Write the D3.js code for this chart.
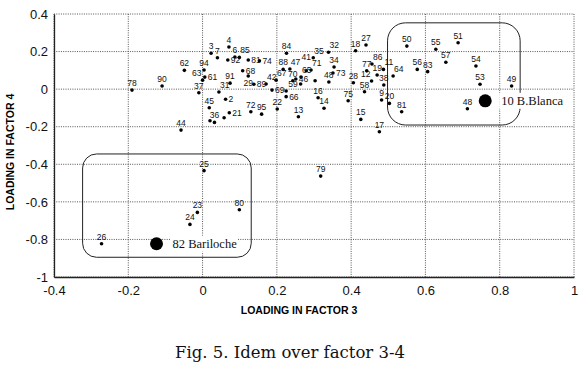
<!DOCTYPE html>
<html>
<head>
<meta charset="utf-8">
<script src="https://cdn.jsdelivr.net/npm/d3@7"></script>
<style>
  body { margin: 0; background: #fff; }
  svg { display: block; }
</style>
</head>
<body>
<svg id="chart" width="580" height="379"></svg>
<script>
// station numbers, loadings on factor 3 (x) and factor 4 (y)
const labels = ["78","90","62","44","94","61","63","37","31","2","91","45","21","36","","",
  "3","7","4","6","92","85","81","74","68","29","89","42","69","22","72","95","67",
  "84","88","47","70","46","65","59","66","","41","35","71","32","34","73","48","",
  "16","14","13","75","28","18","27","77","86","19","12","58","15","17","11","64",
  "38","9","20","81","50","55","51","57","56","83","54","53","49","48",
  "25","23","24","80","26","79"];
const factor3 = [-0.190,-0.109,-0.049,-0.058,0.004,0.006,0.000,-0.010,0.044,0.062,0.074,0.018,0.072,0.032,0.020,0.058,
  0.023,0.040,0.071,0.087,0.068,0.099,0.123,0.153,0.108,0.123,0.138,0.171,0.187,0.201,0.130,0.159,0.198,
  0.226,0.217,0.235,0.243,0.251,0.265,0.264,0.225,0.225,0.279,0.298,0.292,0.339,0.354,0.351,0.340,0.303,
  0.311,0.327,0.258,0.392,0.406,0.412,0.440,0.442,0.456,0.470,0.455,0.436,0.426,0.476,0.487,0.513,
  0.488,0.482,0.503,0.536,0.550,0.628,0.688,0.655,0.578,0.606,0.736,0.747,0.832,0.713,
  0.004,-0.014,-0.034,0.099,-0.272,0.318];
const factor4 = [-0.005,0.017,0.100,-0.218,0.102,0.064,0.048,-0.019,-0.015,-0.054,0.032,-0.099,-0.126,-0.177,-0.168,-0.152,
  0.191,0.167,0.224,0.171,0.155,0.169,0.155,0.151,0.098,0.070,0.026,0.027,-0.005,-0.106,-0.120,-0.133,0.048,
  0.191,0.105,0.107,0.045,0.054,0.064,0.027,-0.040,-0.010,0.098,0.167,0.102,0.196,0.118,0.086,0.038,0.045,
  -0.046,-0.102,-0.147,-0.062,0.034,0.204,0.235,0.098,0.134,0.075,0.043,-0.014,-0.161,-0.227,0.105,0.070,
  0.022,-0.058,-0.076,-0.120,0.229,0.212,0.247,0.143,0.105,0.093,0.123,0.026,0.017,-0.104,
  -0.434,-0.656,-0.720,-0.642,-0.823,-0.463];

// the two highlighted stations
const bigNames = ["10 B.Blanca", "82 Bariloche"];
const bigF3 = [0.761, -0.124];
const bigF4 = [-0.062, -0.823];

// grouping boxes [x0, x1, y0, y1] in loading units
const boxes = [[-0.323, 0.131, -0.345, -0.895], [0.498, 0.855, 0.353, -0.191]];

const xTicks = [-0.4, -0.2, 0, 0.2, 0.4, 0.6, 0.8, 1];
const yTicks = [0.4, 0.2, 0, -0.2, -0.4, -0.6, -0.8, -1];

const svg = d3.select("#chart");
const m = { left: 54, top: 14, right: 574, bottom: 277 };

const x = d3.scaleLinear().domain([-0.4, 1]).range([m.left, m.right]);
const y = d3.scaleLinear().domain([-1, 0.4]).range([m.bottom, m.top]);

// dotted grid
svg.append("g").selectAll("line").data(xTicks).enter().append("line")
  .attr("x1", d => x(d)).attr("x2", d => x(d))
  .attr("y1", m.top).attr("y2", m.bottom)
  .attr("stroke", "#555").attr("stroke-dasharray", "1,1.3");
svg.append("g").selectAll("line").data(yTicks).enter().append("line")
  .attr("x1", m.left).attr("x2", m.right)
  .attr("y1", d => y(d)).attr("y2", d => y(d))
  .attr("stroke", "#555").attr("stroke-dasharray", "1,1.3");

const fmt = d => String(d);

const xAxis = svg.append("g")
  .attr("transform", `translate(0,${m.bottom})`)
  .call(d3.axisBottom(x).tickValues(xTicks).tickFormat(fmt).tickSize(0).tickPadding(9));
const yAxis = svg.append("g")
  .attr("transform", `translate(${m.left},0)`)
  .call(d3.axisLeft(y).tickValues(yTicks).tickFormat(fmt).tickSize(0).tickPadding(6));

[xAxis, yAxis].forEach(a => {
  a.select(".domain").attr("stroke", "#222").attr("stroke-width", 1.3);
  a.selectAll("text").attr("font-family", "Liberation Sans, Arial, sans-serif")
    .attr("font-size", 13).attr("fill", "#111");
});

// axis titles
svg.append("text")
  .attr("x", 299).attr("y", 314)
  .attr("text-anchor", "middle")
  .attr("font-family", "Liberation Sans, Arial, sans-serif")
  .attr("font-weight", "bold").attr("font-size", 10.5)
  .text("LOADING IN FACTOR 3");
svg.append("text")
  .attr("transform", "translate(14,152) rotate(-90)")
  .attr("text-anchor", "middle")
  .attr("font-family", "Liberation Sans, Arial, sans-serif")
  .attr("font-weight", "bold").attr("font-size", 10.5)
  .text("LOADING IN FACTOR 4");

// boxes
svg.append("g").selectAll("rect").data(boxes).enter().append("rect")
  .attr("x", d => x(d[0])).attr("y", d => y(d[2]))
  .attr("width", d => x(d[1]) - x(d[0]))
  .attr("height", d => y(d[3]) - y(d[2]))
  .attr("rx", (d, i) => i === 0 ? 14 : 18)
  .attr("fill", "none").attr("stroke", "#222").attr("stroke-width", 1);

// small points
const pts = labels.map((l, i) => ({ l, a: factor3[i], b: factor4[i] }));
const g = svg.append("g");
g.selectAll("circle").data(pts).enter().append("circle")
  .attr("cx", d => x(d.a)).attr("cy", d => y(d.b))
  .attr("r", 1.8).attr("fill", "#000");

const txt = g.selectAll("text").data(pts.filter(d => d.l)).enter().append("text")
  .attr("font-family", "Liberation Sans, Arial, sans-serif")
  .attr("font-size", 8.5).attr("fill", "#111")
  .attr("text-anchor", "middle")
  .text(d => d.l);

// greedy placement: try above first, then around the dot, keep the first free spot
const placed = [];
const hit = (a, b) => a.x0 < b.x1 && b.x0 < a.x1 && a.y0 < b.y1 && b.y0 < a.y1;
txt.each(function(d) {
  const w = this.getComputedTextLength(), h = 7;
  const cx = x(d.a), cy = y(d.b);
  const cands = [[0, -4], [-w / 2 - 1, -4], [w / 2 + 1, -4], [w / 2 + 3, 3], [-w / 2 - 3, 3],
    [0, 10], [0, -11], [-w - 1, -4], [w + 1, -4], [-w / 2 - 1, 10], [w / 2 + 1, 10],
    [-w / 2 - 1, -11], [w / 2 + 1, -11], [w + 3, 3], [-w - 3, 3], [0, 17], [0, -18],
    [-w - 2, 10], [w + 2, 10], [-w - 2, -11], [w + 2, -11]];
  let best = cands[0];
  for (const c of cands) {
    const bx = { x0: cx + c[0] - w / 2, x1: cx + c[0] + w / 2, y0: cy + c[1] - h, y1: cy + c[1] };
    if (!placed.some(p => hit(p, bx))) { best = c; break; }
  }
  placed.push({ x0: cx + best[0] - w / 2 - 0.5, x1: cx + best[0] + w / 2 + 0.5, y0: cy + best[1] - h - 0.5, y1: cy + best[1] + 1 });
  d3.select(this).attr("x", cx + best[0]).attr("y", cy + best[1]);
});

// highlighted stations
const big = bigNames.map((n, i) => ({ n, a: bigF3[i], b: bigF4[i] }));
const bg = svg.append("g");
bg.selectAll("rect").data(big).enter().append("rect")
  .attr("x", d => x(d.a) + 14).attr("y", d => y(d.b) - 8)
  .attr("width", d => d.n.length * 5.6).attr("height", 16)
  .attr("fill", "#fff");
bg.selectAll("circle").data(big).enter().append("circle")
  .attr("cx", d => x(d.a)).attr("cy", d => y(d.b))
  .attr("r", 6.5).attr("fill", "#000");
bg.selectAll("text").data(big).enter().append("text")
  .attr("x", d => x(d.a) + 16).attr("y", d => y(d.b) + 4.5)
  .attr("font-family", "Liberation Serif, Times New Roman, serif")
  .attr("font-size", 12.5).attr("fill", "#111")
  .text(d => d.n);

// caption
svg.append("text")
  .attr("x", 290).attr("y", 358)
  .attr("text-anchor", "middle")
  .attr("font-family", "DejaVu Serif, Liberation Serif, serif")
  .attr("font-size", 16.5).attr("fill", "#111")
  .text("Fig. 5. Idem over factor 3-4");
</script>
</body>
</html>
